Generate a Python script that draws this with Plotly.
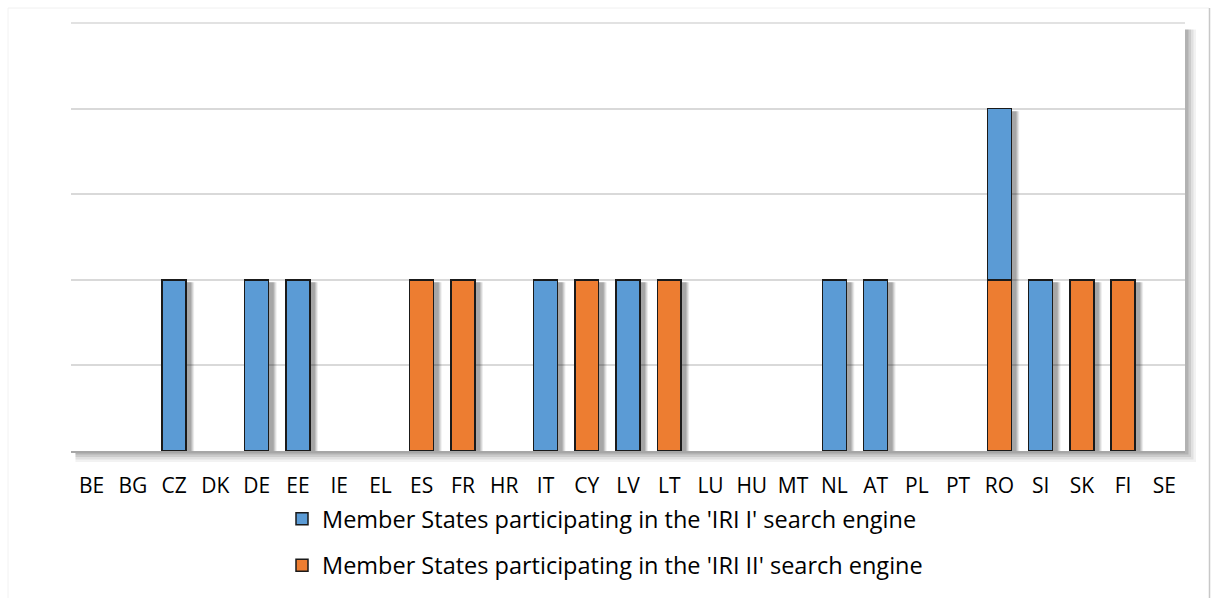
import plotly.graph_objects as go

countries = ["BE", "BG", "CZ", "DK", "DE", "EE", "IE", "EL", "ES", "FR", "HR", "IT", "CY",
             "LV", "LT", "LU", "HU", "MT", "NL", "AT", "PL", "PT", "RO", "SI", "SK", "FI", "SE"]
iri_1 = [0, 0, 2, 0, 2, 2, 0, 0, 0, 0, 0, 2, 0, 2, 0, 0, 0, 0, 2, 2, 0, 0, 2, 2, 0, 0, 0]
iri_2 = [0, 0, 0, 0, 0, 0, 0, 0, 2, 2, 0, 0, 2, 0, 2, 0, 0, 0, 0, 0, 0, 0, 2, 0, 2, 2, 0]

BLUE = "#5B9BD5"
ORANGE = "#ED7D31"
FONT = "Open Sans"


def visible(vals):
    # empty segments are left out so they don't leave an outline on the baseline
    return [v if v else None for v in vals]


fig = go.Figure()
fig.add_trace(go.Bar(x=countries, y=visible(iri_2),
                     name="Member States participating in the 'IRI II' search engine",
                     marker=dict(color=ORANGE, line=dict(color="#1a1a1a", width=1.5)),
                     legendrank=2, legendgroup="b"))
fig.add_trace(go.Bar(x=countries, y=visible(iri_1),
                     name="Member States participating in the 'IRI I' search engine",
                     marker=dict(color=BLUE, line=dict(color="#1a1a1a", width=1.5)),
                     legendrank=1, legendgroup="a"))

shapes = []
# soft drop shadows behind the bars
totals = [a + b for a, b in zip(iri_1, iri_2)]
for i, t in enumerate(totals):
    if t <= 0:
        continue
    for k, op in enumerate([0.07, 0.09, 0.11, 0.13]):
        grow = 3 - k
        shapes.append(dict(type="rect", layer="between", xref="x", yref="y",
                           xsizemode="pixel", xanchor=i,
                           x0=-8 - grow, x1=17 + grow, y0=0, y1=t - 0.03,
                           fillcolor=f"rgba(0,0,0,{op})", line=dict(width=0)))
# plot-area shadow on the right and bottom
for k, op in enumerate([0.05, 0.07, 0.09, 0.12]):
    d = 11 - 2.5 * k
    shapes.append(dict(type="rect", layer="below", xref="paper", yref="paper",
                       x0=0.004, x1=1 + d / 1114, y0=-d / 428, y1=0.985,
                       fillcolor=f"rgba(0,0,0,{op})", line=dict(width=0)))
shapes.append(dict(type="rect", layer="below", xref="paper", yref="paper",
                   x0=0, x1=1, y0=0, y1=1, fillcolor="white", line=dict(width=0)))
# top gridline of the plot area
shapes.append(dict(type="line", layer="below", xref="paper", yref="paper",
                   x0=0, x1=1, y0=1, y1=1, line=dict(color="#D9D9D9", width=1.5)))
# outer chart frame
shapes.append(dict(type="line", layer="below", xref="paper", yref="paper",
                   x0=-63 / 1114, x1=1 + 24 / 1114, y0=1 + 15 / 428, y1=1 + 15 / 428,
                   line=dict(color="#F0F0F0", width=1)))
shapes.append(dict(type="line", layer="below", xref="paper", yref="paper",
                   x0=-63 / 1114, x1=-63 / 1114, y0=-147 / 428, y1=1 + 15 / 428,
                   line=dict(color="#F2F2F2", width=1)))
shapes.append(dict(type="line", layer="below", xref="paper", yref="paper",
                   x0=1 + 24.5 / 1114, x1=1 + 24.5 / 1114, y0=-147 / 428, y1=1 + 15 / 428,
                   line=dict(color="#C8C8C8", width=1.5)))

fig.update_layout(
    width=1211, height=598,
    margin=dict(l=71, r=26, t=23, b=147, autoexpand=False),
    barmode="stack", bargap=0.42,
    plot_bgcolor="white", paper_bgcolor="white",
    font=dict(family=FONT, color="#000000"),
    showlegend=True,
    legend=dict(orientation="v", xref="container", yref="container",
                x=282 / 1211, xanchor="left", y=1 - 497 / 598, yanchor="top",
                font=dict(size=23.5, family=FONT), tracegroupgap=13, bgcolor="rgba(0,0,0,0)",
                itemwidth=30),
    shapes=shapes,
)
fig.update_xaxes(showline=True, linecolor="#A6A6A6", linewidth=1.5, tickfont=dict(size=21),
                 ticks="", ticklabelstandoff=15, fixedrange=True)
fig.update_yaxes(range=[0, 5], tickvals=[0, 1, 2, 3, 4, 5], showticklabels=False,
                 gridcolor="#D9D9D9", gridwidth=1.5,
                 zeroline=False, showline=False, fixedrange=True)

fig.write_html("out.html")
